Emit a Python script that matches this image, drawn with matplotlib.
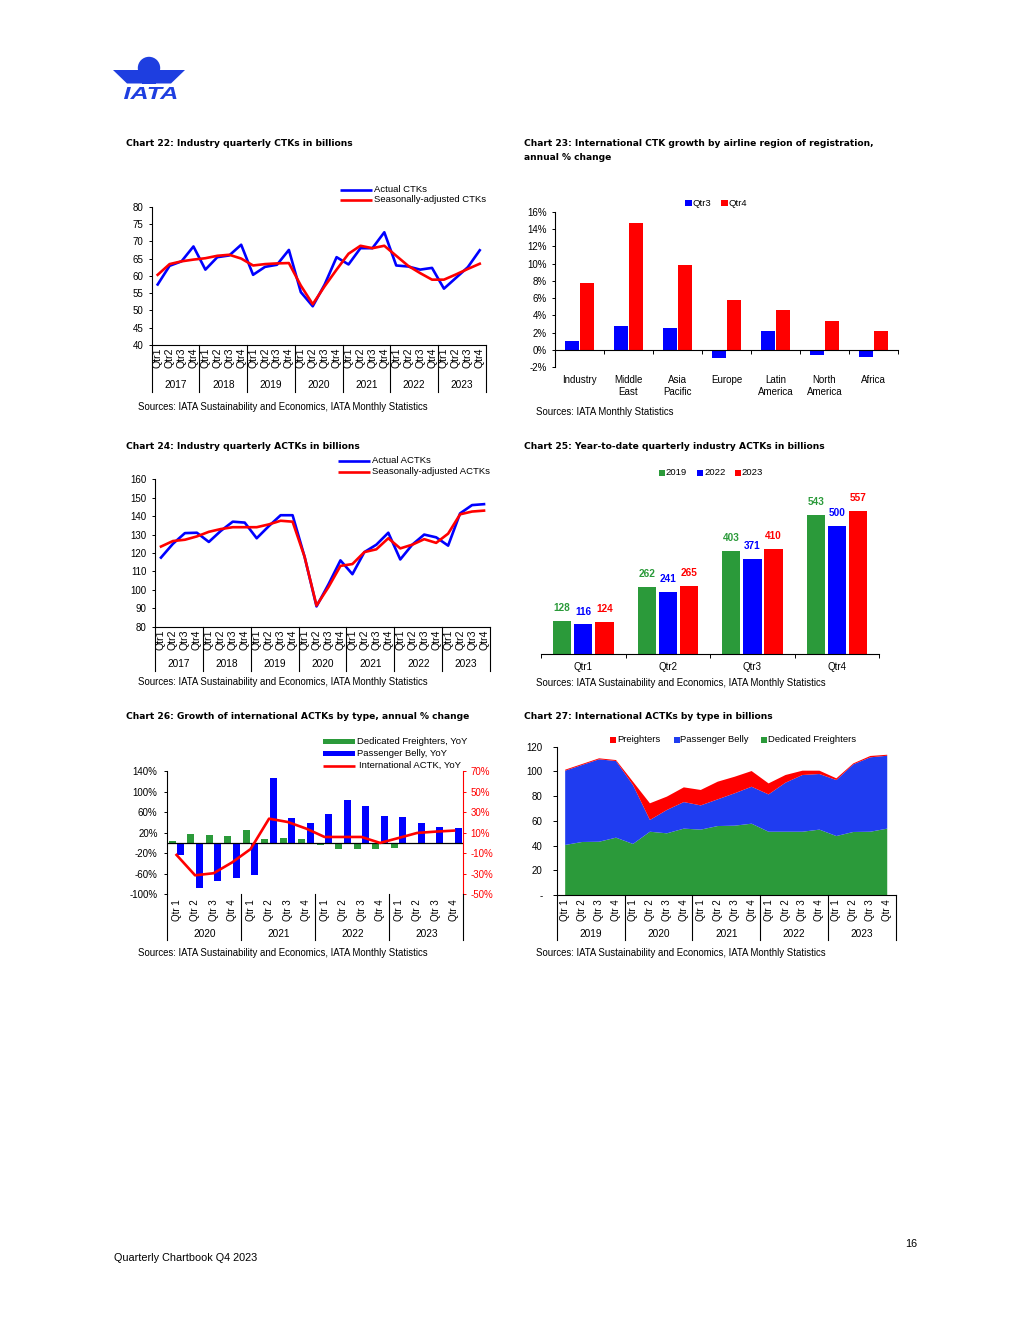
import matplotlib
matplotlib.use('Agg')
import matplotlib.pyplot as plt
import numpy as np
import matplotlib.transforms as mtransforms
from matplotlib.lines import Line2D
from matplotlib.patches import Rectangle, Circle, Polygon, PathPatch
from matplotlib.textpath import TextPath
from matplotlib.font_manager import FontProperties
from matplotlib.transforms import Affine2D

# ---------------- DATA ----------------
years_17_23 = ['2017', '2018', '2019', '2020', '2021', '2022', '2023']
qtr_labels = ['Qtr1', 'Qtr2', 'Qtr3', 'Qtr4']
qtr_labels_sp = ['Qtr 1', 'Qtr 2', 'Qtr 3', 'Qtr 4']

# Chart 22
ctk_actual = [57.5, 62.9, 64.2, 68.5, 61.8, 65.4, 65.9, 69.0, 60.3, 62.6, 63.2, 67.5,
              55.3, 51.2, 57.5, 65.4, 63.3, 68.0, 68.0, 72.6, 63.0, 62.7, 61.8, 62.3,
              56.3, 59.4, 62.5, 67.4]
ctk_sa = [60.3, 63.4, 64.2, 64.7, 65.1, 65.8, 66.1, 65.0, 63.0, 63.4, 63.6, 63.7,
          57.2, 51.8, 57.0, 61.8, 66.4, 68.7, 68.0, 68.7, 65.8, 62.9, 60.8, 58.9,
          58.9, 60.4, 62.0, 63.5]

# Chart 23
regions = ['Industry', 'Middle\nEast', 'Asia\nPacific', 'Europe', 'Latin\nAmerica', 'North\nAmerica', 'Africa']
growth_q3 = [1.1, 2.8, 2.6, -0.9, 2.2, -0.6, -0.8]
growth_q4 = [7.8, 14.7, 9.8, 5.8, 4.6, 3.4, 2.2]

# Chart 24
actk_actual = [117.5, 125.0, 130.8, 131.0, 126.0, 132.0, 137.0, 136.5, 128.0, 134.5, 140.5, 140.5,
               118.0, 91.0, 103.0, 116.0, 108.5, 120.5, 124.5, 131.0, 116.5, 124.5, 130.0, 128.5,
               124.0, 141.5, 146.0, 146.5]
actk_sa = [123.5, 126.5, 127.2, 129.0, 131.5, 133.0, 134.0, 134.0, 134.0, 135.5, 137.5, 137.0,
           118.0, 91.5, 101.5, 113.0, 114.0, 120.5, 122.0, 128.0, 122.5, 124.5, 127.5, 125.5,
           130.5, 141.0, 142.5, 143.0]

# Chart 25
ytd_quarters = ['Qtr1', 'Qtr2', 'Qtr3', 'Qtr4']
ytd_2019 = [128, 262, 403, 543]
ytd_2022 = [116, 241, 371, 500]
ytd_2023 = [124, 265, 410, 557]

# Chart 26
years_20_23 = ['2020', '2021', '2022', '2023']
ded_yoy = [3, 18, 15.5, 13.5, 25, 7.6, 9.6, 7.6, -5, -12, -12, -12, -9, -3, -2.5, -3]
belly_yoy = [-23, -87, -75, -67.5, -62, 126, 48.5, 39, 56, 83.5, 72, 52.5, 50.5, 39, 31, 29]
intl_yoy = [-11.7, -31.5, -29.5, -19, -6, 23.6, 20.4, 14, 5.8, 5.8, 5.8, 0, 4.8, 9.7, 11, 12]

# Chart 27
years_19_23 = ['2019', '2020', '2021', '2022', '2023']
ded_bn = [40.5, 42.9, 43.1, 46.4, 41.3, 51.2, 49.9, 53.7, 52.9, 55.8, 56.1, 57.7,
          51.2, 51.2, 51.2, 52.9, 47.7, 51.0, 51.2, 53.7]
belly_bn = [60.1, 62.3, 66.7, 62.0, 47.7, 9.5, 18.9, 21.5, 19.6, 21.6, 26.2, 29.9,
            30.2, 39.7, 45.9, 45.0, 45.3, 54.7, 60.2, 59.0]
preighter_bn = [0.8, 0.8, 0.8, 0.8, 2.7, 13.5, 10.8, 11.9, 12.5, 14.3, 13.4, 12.7,
                8.9, 6.2, 3.5, 2.7, 1.4, 0.8, 1.1, 0.8]

# ---------------- STYLE ----------------
W, H = 1020, 1320
plt.rcParams['font.family'] = ['Liberation Sans', 'DejaVu Sans']
BLUE = '#0000ff'
RED = '#ff0000'
GREEN = '#2b9a3a'
BLUE27 = '#1f3cf0'
LOGO = '#1e3ee0'
TICK = 7.0
QTK = 7.6
YRS = 7.3
TITLE = 6.6
SRC = 6.9
LEG = 6.8

fig = plt.figure(figsize=(W / 100, H / 100), dpi=100)
pg = fig.add_axes([0, 0, 1, 1])
pg.set_xlim(0, W)
pg.set_ylim(H, 0)
pg.set_autoscale_on(False)
pg.axis('off')


def pax(l, t, r, b):
    ax = fig.add_axes([l / W, 1 - b / H, (r - l) / W, (b - t) / H])
    ax.patch.set_alpha(0)
    return ax


def ptext(x, y, s, **kw):
    kw.setdefault('va', 'center')
    kw.setdefault('fontsize', LEG)
    return pg.text(x, y, s, **kw)


def title(x, y, s):
    ptext(x, y, s, fontsize=TITLE, fontweight='bold', family=['DejaVu Sans'])


def source(x, y, s):
    ptext(x, y, s, fontsize=SRC)


def psquare(x, y, size, color):
    pg.add_patch(Rectangle((x - size / 2, y - size / 2), size, size, color=color, lw=0))


def pline(x0, x1, y, color, lw):
    pg.plot([x0, x1], [y, y], color=color, lw=lw, solid_capstyle='butt')


def style_y(ax, fs=TICK, length=2.5, pad=3.5):
    ax.tick_params(axis='y', direction='out', length=length, width=0.7, pad=pad, labelsize=fs)
    for s in ['top', 'right']:
        ax.spines[s].set_visible(False)
    ax.spines['left'].set_linewidth(0.8)
    ax.spines['bottom'].set_linewidth(0.8)
    ax.set_xticks([])


def multi_cat(ax, axis_bottom, years, qlab, q_top, yr_y, sep_bot, qfs=QTK, yfs=YRS):
    tr = mtransforms.blended_transform_factory(ax.transData, pg.transData)
    per = len(qlab)
    n = len(years) * per
    for i in range(n):
        ax.text(i, q_top, qlab[i % per], rotation=90, ha='center', va='top',
                transform=tr, fontsize=qfs)
    for k, yr in enumerate(years):
        ax.text(k * per + (per - 1) / 2, yr_y, yr, ha='center', va='center',
                transform=tr, fontsize=yfs)
    for k in range(len(years) + 1):
        x = k * per - 0.5
        fig.add_artist(Line2D([x, x], [axis_bottom, sep_bot], transform=tr,
                              color='black', lw=0.8))


# ---------------- LOGO ----------------
pg.add_patch(Polygon([(113, 70), (141, 70), (146, 83.5), (127, 83.5)], closed=True, color=LOGO, lw=0))
pg.add_patch(Polygon([(185, 70), (157, 70), (152, 83.5), (171, 83.5)], closed=True, color=LOGO, lw=0))
pg.add_patch(Circle((149, 68), 11.2, color=LOGO, lw=0))
pg.add_patch(Rectangle((142, 75), 14, 8.5, color=LOGO, lw=0))
fp = FontProperties(family='Liberation Sans', weight='bold', style='italic')
tp = TextPath((0, 0), 'IATA', size=1, prop=fp)
bb = tp.get_extents()
ttr = Affine2D().translate(-bb.x0, -bb.y0).scale(52.5 / bb.width, -12.0 / bb.height).translate(124, 99)
pg.add_patch(PathPatch(ttr.transform_path(tp), color=LOGO, lw=0))

# ---------------- CHART 22 ----------------
title(126.5, 143, 'Chart 22: Industry quarterly CTKs in billions')
l, t, r, b = 151.7, 206.7, 485.7, 345.0
ax = pax(l, t, r, b)
x = np.arange(len(ctk_actual))
ax.plot(x, ctk_actual, color=BLUE, lw=1.9)
ax.plot(x, ctk_sa, color=RED, lw=1.9)
ax.set_xlim(-0.5, len(ctk_actual) - 0.5)
ax.set_ylim(40, 80)
ax.set_yticks(range(40, 81, 5))
style_y(ax)
multi_cat(ax, b, years_17_23, qtr_labels, 347.5, 385, 392)
pline(340, 372, 190, BLUE, 1.9)
pline(340, 372, 200, RED, 1.9)
ptext(374, 189.5, 'Actual CTKs')
ptext(374, 199.5, 'Seasonally-adjusted CTKs')
source(138, 407, 'Sources: IATA Sustainability and Economics, IATA Monthly Statistics')

# ---------------- CHART 23 ----------------
title(524, 143, 'Chart 23: International CTK growth by airline region of registration,')
title(524, 157.7, 'annual % change')
l, t, r, b = 555, 211.7, 898, 367.3
ax = pax(l, t, r, b)
xr = np.arange(len(regions))
ax.bar(xr - 0.155, growth_q3, width=0.29, color=BLUE)
ax.bar(xr + 0.155, growth_q4, width=0.29, color=RED)
ax.set_xlim(-0.5, len(regions) - 0.5)
ax.set_ylim(-2, 16)
ax.set_yticks(range(-2, 17, 2))
ax.set_yticklabels([f'{v}%' for v in range(-2, 17, 2)])
style_y(ax)
ax.spines['bottom'].set_position(('data', 0))
ax.set_xticks(np.arange(-0.5, len(regions), 1))
ax.set_xticklabels([])
ax.tick_params(axis='x', direction='out', length=2.8, width=0.7)
tr23 = mtransforms.blended_transform_factory(ax.transData, pg.transData)
for i, reg in enumerate(regions):
    ax.text(i, 375, reg, ha='center', va='top', transform=tr23, fontsize=TICK, linespacing=1.2)
psquare(688.5, 203, 6.2, BLUE)
ptext(692.5, 203, 'Qtr3')
psquare(724.5, 203, 6.2, RED)
ptext(728.5, 203, 'Qtr4')
source(536.5, 411.7, 'Sources: IATA Monthly Statistics')

# ---------------- CHART 24 ----------------
title(126.5, 446.7, 'Chart 24: Industry quarterly ACTKs in billions')
l, t, r, b = 155, 479.3, 490, 626.7
ax = pax(l, t, r, b)
x = np.arange(len(actk_actual))
ax.plot(x, actk_actual, color=BLUE, lw=1.9)
ax.plot(x, actk_sa, color=RED, lw=1.9)
ax.set_xlim(-0.5, len(actk_actual) - 0.5)
ax.set_ylim(80, 160)
ax.set_yticks(range(80, 161, 10))
style_y(ax)
multi_cat(ax, b, years_17_23, qtr_labels, 629, 664.3, 671)
pline(338, 370, 460.7, BLUE, 1.9)
pline(338, 370, 471.7, RED, 1.9)
ptext(372, 460.5, 'Actual ACTKs')
ptext(372, 471.5, 'Seasonally-adjusted ACTKs')
source(138, 682.3, 'Sources: IATA Sustainability and Economics, IATA Monthly Statistics')

# ---------------- CHART 25 ----------------
title(524, 446.7, 'Chart 25: Year-to-date quarterly industry ACTKs in billions')
l, t, r, b = 541, 480, 879.3, 654.3
ax = pax(l, t, r, b)
xq = np.arange(len(ytd_quarters))
for off, vals, col in [(-0.25, ytd_2019, GREEN), (0.0, ytd_2022, BLUE), (0.25, ytd_2023, RED)]:
    ax.bar(xq + off, vals, width=0.216, color=col)
    for xi, v in zip(xq + off, vals):
        ax.annotate(str(v), (xi, v), xytext=(0, 9.3), textcoords='offset points',
                    ha='center', va='center', color=col, fontweight='bold', fontsize=7.2)
ax.set_xlim(-0.5, len(ytd_quarters) - 0.5)
ax.set_ylim(0, 677.4)
for s in ['top', 'right', 'left']:
    ax.spines[s].set_visible(False)
ax.spines['bottom'].set_linewidth(0.8)
ax.set_yticks([])
ax.set_xticks(np.arange(-0.5, len(ytd_quarters), 1))
ax.set_xticklabels([])
ax.tick_params(axis='x', direction='out', length=2.8, width=0.7)
tr25 = mtransforms.blended_transform_factory(ax.transData, pg.transData)
for i, q in enumerate(ytd_quarters):
    ax.text(i, 666.7, q, ha='center', va='center', transform=tr25, fontsize=TICK)
psquare(661.7, 472.7, 6.2, GREEN)
ptext(665.5, 472.7, '2019')
psquare(700, 472.7, 6.2, BLUE)
ptext(704, 472.7, '2022')
psquare(737.7, 472.7, 6.2, RED)
ptext(741.5, 472.7, '2023')
source(535.7, 683.3, 'Sources: IATA Sustainability and Economics, IATA Monthly Statistics')

# ---------------- CHART 26 ----------------
title(126.5, 716.7, 'Chart 26: Growth of international ACTKs by type, annual % change')
l, t, r, b = 167.3, 771, 463.3, 894.3
ax = pax(l, t, r, b)
x = np.arange(len(ded_yoy))
ax.bar(x - 0.22, ded_yoy, width=0.38, color=GREEN)
ax.bar(x + 0.22, belly_yoy, width=0.38, color=BLUE)
ax.axhline(0, color='black', lw=0.9)
ax.set_xlim(-0.5, len(ded_yoy) - 0.5)
ax.set_ylim(-100, 140)
ax.set_yticks(range(-100, 141, 40))
ax.set_yticklabels([f'{v}%' for v in range(-100, 141, 40)])
style_y(ax, pad=4.5)
ax.spines['bottom'].set_visible(False)
ax2 = ax.twinx()
ax2.plot(x, intl_yoy, color=RED, lw=1.9)
ax2.set_ylim(-50, 70)
ax2.set_yticks(range(-50, 71, 20))
ax2.set_yticklabels([f'{v}%' for v in range(-50, 71, 20)])
for s in ['top', 'left', 'bottom']:
    ax2.spines[s].set_visible(False)
ax2.spines['right'].set_color(RED)
ax2.spines['right'].set_linewidth(0.8)
ax2.tick_params(axis='y', direction='out', length=2.5, width=0.7, pad=2.5,
                labelsize=TICK, colors=RED)
multi_cat(ax, b, years_20_23, qtr_labels_sp, 899, 934.3, 940, qfs=7.0)
pg.add_patch(Rectangle((323.3, 738.5), 31.7, 5, color=GREEN, lw=0))
pg.add_patch(Rectangle((323.3, 751), 31.7, 5, color=BLUE, lw=0))
pline(323.3, 355, 766, RED, 1.9)
ptext(357, 741, 'Dedicated Freighters, YoY')
ptext(357, 753.3, 'Passenger Belly, YoY')
ptext(359.3, 765.5, 'International ACTK, YoY')
source(138, 953.3, 'Sources: IATA Sustainability and Economics, IATA Monthly Statistics')

# ---------------- CHART 27 ----------------
title(524, 716.7, 'Chart 27: International ACTKs by type in billions')
l, t, r, b = 556.7, 746.7, 895.7, 895
ax = pax(l, t, r, b)
x = np.arange(len(ded_bn))
ax.stackplot(x, ded_bn, belly_bn, preighter_bn, colors=[GREEN, BLUE27, RED], lw=0)
ax.set_xlim(-0.5, len(ded_bn) - 0.5)
ax.set_ylim(0, 120)
ax.set_yticks(range(0, 121, 20))
ax.set_yticklabels(['-'] + [str(v) for v in range(20, 121, 20)])
style_y(ax, length=3, pad=7)
multi_cat(ax, b, years_19_23, qtr_labels_sp, 899, 934.3, 940, qfs=7.0)
psquare(613.3, 740, 6.2, RED)
ptext(617.5, 740, 'Preighters')
psquare(676.7, 740, 6.2, BLUE27)
ptext(680.5, 740, 'Passenger Belly')
psquare(764.3, 740, 6.2, GREEN)
ptext(768.5, 740, 'Dedicated Freighters')
source(535.7, 953.3, 'Sources: IATA Sustainability and Economics, IATA Monthly Statistics')

# ---------------- FOOTER ----------------
ptext(917, 1244, '16', ha='right', fontsize=7.8)
ptext(114, 1258, 'Quarterly Chartbook Q4 2023', fontsize=7.8)

fig.savefig('out.png', dpi=100)
